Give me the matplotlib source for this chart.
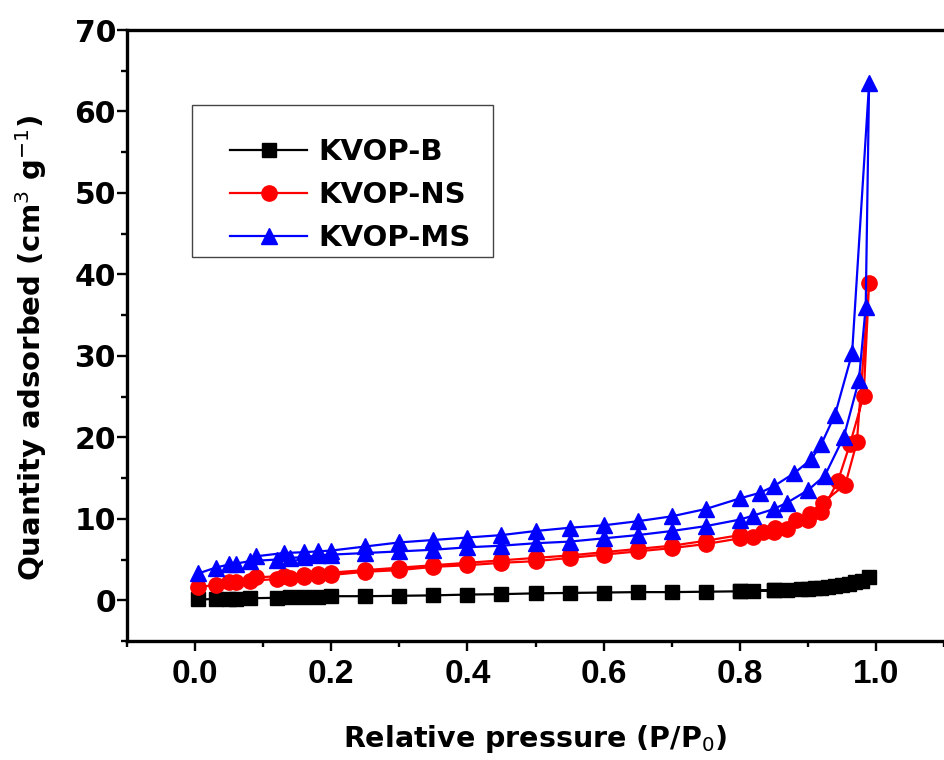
import numpy as np
import matplotlib.pyplot as plt
from matplotlib.patches import Rectangle

# KVOP-B (adsorption then desorption)
b_x = [0.005, 0.03, 0.05, 0.06, 0.08, 0.12, 0.14, 0.16, 0.18, 0.20, 0.25, 0.30, 0.35,
       0.40, 0.45, 0.50, 0.55, 0.60, 0.65, 0.70, 0.75, 0.80, 0.82, 0.85, 0.87, 0.89,
       0.91, 0.93, 0.95, 0.97, 0.99,
       0.98, 0.96, 0.94, 0.92, 0.90, 0.85, 0.80]
b_y = [0.1, 0.15, 0.2, 0.2, 0.25, 0.3, 0.35, 0.4, 0.45, 0.5, 0.5, 0.55, 0.6,
       0.7, 0.75, 0.85, 0.9, 0.95, 1.0, 1.0, 1.05, 1.1, 1.15, 1.2, 1.25, 1.35,
       1.45, 1.6, 1.9, 2.3, 2.8,
       2.4, 2.0, 1.7, 1.5, 1.4, 1.25, 1.1]

# KVOP-NS
ns_x = [0.005, 0.03, 0.05, 0.06, 0.08, 0.12, 0.14, 0.16, 0.18, 0.20, 0.25, 0.30, 0.35,
        0.40, 0.45, 0.50, 0.55, 0.60, 0.65, 0.70, 0.75, 0.80, 0.82, 0.85, 0.87, 0.90,
        0.92, 0.944, 0.962, 0.982, 0.99,
        0.972, 0.955, 0.922, 0.903, 0.883, 0.852, 0.834, 0.80, 0.75, 0.70, 0.65, 0.60,
        0.55, 0.50, 0.45, 0.40, 0.35, 0.30, 0.25, 0.20, 0.18, 0.16, 0.13, 0.09]
ns_y = [1.6, 1.9, 2.3, 2.3, 2.4, 2.6, 2.7, 2.9, 3.0, 3.1, 3.5, 3.7, 4.1,
        4.3, 4.6, 4.8, 5.2, 5.6, 6.0, 6.4, 6.9, 7.6, 7.8, 8.4, 8.8, 9.9,
        10.8, 14.6, 19.2, 25.1, 39.0,
        19.4, 14.2, 12.0, 10.6, 9.8, 8.9, 8.4, 8.0, 7.3, 6.7, 6.3, 5.9,
        5.5, 5.2, 4.9, 4.6, 4.3, 4.0, 3.7, 3.4, 3.2, 3.1, 3.0, 2.8]

# KVOP-MS
ms_x = [0.005, 0.03, 0.05, 0.06, 0.08, 0.12, 0.14, 0.16, 0.18, 0.20, 0.25, 0.30, 0.35,
        0.40, 0.45, 0.50, 0.55, 0.60, 0.65, 0.70, 0.75, 0.80, 0.82, 0.85, 0.87, 0.90,
        0.925, 0.953, 0.975, 0.985, 0.99,
        0.965, 0.94, 0.92, 0.905, 0.88, 0.85, 0.83, 0.80, 0.75, 0.70, 0.65, 0.60,
        0.55, 0.50, 0.45, 0.40, 0.35, 0.30, 0.25, 0.20, 0.18, 0.16, 0.13, 0.09]
ms_y = [3.3, 4.0, 4.4, 4.5, 4.8, 5.0, 5.2, 5.3, 5.5, 5.6, 5.8, 6.0, 6.2,
        6.5, 6.7, 7.0, 7.2, 7.6, 8.0, 8.5, 9.1, 9.9, 10.4, 11.2, 12.0, 13.5,
        15.3, 20.1, 27.0, 36.0, 63.5,
        30.3, 22.8, 19.2, 17.3, 15.6, 14.0, 13.2, 12.5, 11.2, 10.3, 9.7, 9.2,
        8.9, 8.5, 8.0, 7.7, 7.4, 7.1, 6.6, 6.1, 6.0, 5.9, 5.8, 5.4]

fig = plt.figure(figsize=(9.44, 7.6), dpi=100)
ax = fig.add_axes([127/944, 1 - 641/760, 1 - 127/944, (641 - 30)/760])

ax.plot(b_x, b_y, '-s', color='black', lw=1.6, ms=9.5, label='KVOP-B')
ax.plot(ns_x, ns_y, '-o', color='#ff0000', lw=1.6, ms=11, label='KVOP-NS')
ax.plot(ms_x, ms_y, '-^', color='#0000ff', lw=1.6, ms=11, label='KVOP-MS')

ax.set_xlim(-0.1, 1.1)
ax.set_ylim(-5, 70)
ax.set_xticks(np.arange(0, 1.01, 0.2))
ax.set_xticks(np.arange(-0.1, 1.11, 0.1), minor=True)
ax.set_yticks(np.arange(0, 71, 10))
ax.set_yticks(np.arange(-5, 71, 5), minor=True)
ax.set_xticklabels(['%.1f' % v for v in np.arange(0, 1.01, 0.2)],
                   family='Liberation Sans', weight='bold', fontsize=24)
ax.set_yticklabels([str(v) for v in range(0, 71, 10)],
                   family='DejaVu Sans', weight='bold', fontsize=21.5)

ax.tick_params(which='major', direction='out', length=7, width=1.7)
ax.tick_params(which='minor', direction='out', length=4, width=1.7)
ax.tick_params(axis='x', which='both', pad=6, top=False)
ax.tick_params(axis='y', which='both', pad=1, right=False)

for s in ['left', 'bottom', 'top']:
    ax.spines[s].set_linewidth(2.4)
ax.spines['right'].set_visible(False)

ax.set_xlabel('Relative pressure (P/P$_0$)', family='DejaVu Sans', weight='bold',
              fontsize=20.5, labelpad=24)
ax.set_ylabel('Quantity adsorbed (cm$^3$ g$^{-1}$)', family='DejaVu Sans', weight='bold',
              fontsize=21)
ax.yaxis.set_label_coords(-0.095, 0.48)

# legend frame drawn separately so its box matches the reference
ax.add_patch(Rectangle((65/817, (641 - 257)/611), 301/817, 152/611,
                       transform=ax.transAxes, fill=False, edgecolor='#444444',
                       linewidth=1.0, zorder=5))
leg = ax.legend(loc='upper left', bbox_to_anchor=(103/817, (641 - 138)/611),
                borderaxespad=0, frameon=False, numpoints=1, handlelength=2.64,
                handletextpad=0.38, labelspacing=0.52, borderpad=0,
                prop={'family': 'DejaVu Sans', 'weight': 'bold', 'size': 21})

fig.savefig('out.png', dpi=100)
